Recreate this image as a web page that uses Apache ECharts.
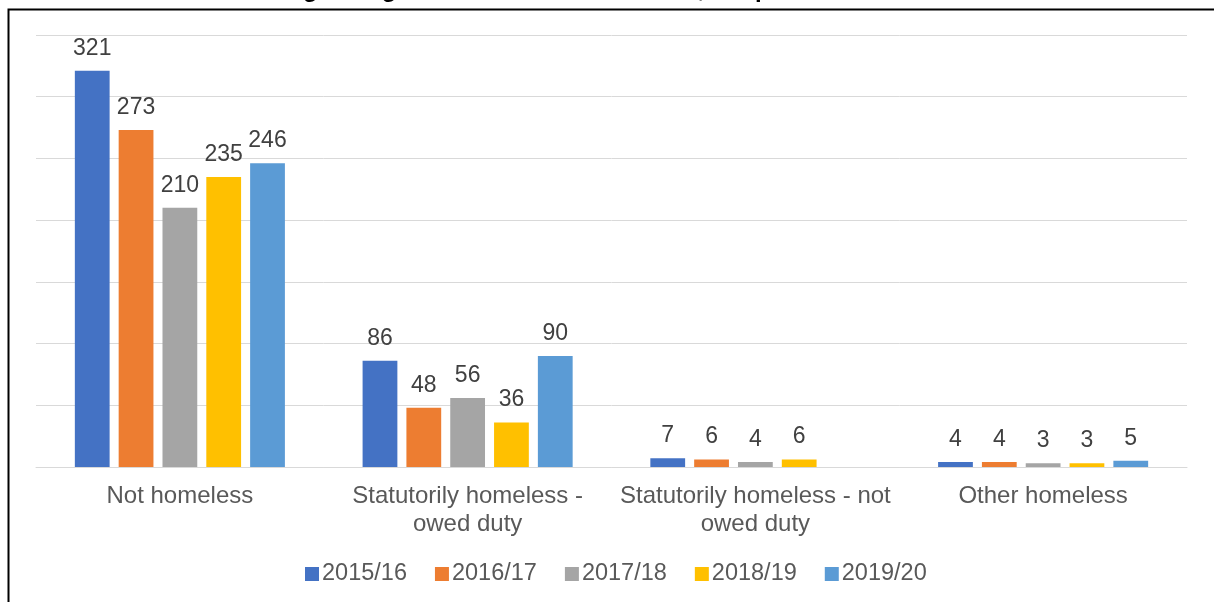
<!DOCTYPE html>
<html>
<head>
<meta charset="utf-8">
<script src="https://cdn.jsdelivr.net/npm/echarts@6/dist/echarts.min.js"></script>
<style>
html,body{margin:0;padding:0;background:#fff;}
#chart{width:1214px;height:602px;}
</style>
</head>
<body>
<div id="chart"></div>
<script>
const categories = ['Not homeless', 'Statutorily homeless -\nowed duty', 'Statutorily homeless - not\nowed duty', 'Other homeless'];
const seriesNames = ['2015/16', '2016/17', '2017/18', '2018/19', '2019/20'];
const s2015 = [321, 86, 7, 4];
const s2016 = [273, 48, 6, 4];
const s2017 = [210, 56, 4, 3];
const s2018 = [235, 36, 6, 3];
const s2019 = [246, 90, null, 5];
const colors = ['#4472C4', '#ED7D31', '#A5A5A5', '#FFC000', '#5B9BD5'];
const titleText = 'Chart 6: Social Housing lettings to homeless households, Suspended homeless outcome';

const chart = echarts.init(document.getElementById('chart'), null, {renderer: 'canvas'});
const allData = [s2015, s2016, s2017, s2018, s2019];
const font = 'Liberation Sans, Arial, sans-serif';

chart.setOption({
  animation: false,
  color: colors,
  textStyle: {fontFamily: font},
  graphic: [
    {type: 'rect', left: 6, top: 7, shape: {width: 1230, height: 620}, style: {fill: 'none', stroke: '#000', lineWidth: 2}},
    {type: 'text', left: 47, top: -22, style: {text: titleText, font: 'bold 24px ' + font, fill: '#000'}}
  ],
  grid: {left: 36, right: 27, top: 35, bottom: 135, containLabel: false},
  legend: {
    data: seriesNames,
    top: 562,
    left: 305,
    padding: 0,
    icon: 'rect',
    itemWidth: 14,
    itemHeight: 14,
    itemGap: 28,
    textStyle: {fontSize: 23.5, color: '#595959', fontFamily: font, padding: [0, 0, 0, -2]}
  },
  xAxis: {
    type: 'category',
    data: categories,
    axisLine: {lineStyle: {color: '#D9D9D9', width: 1}},
    axisTick: {show: false},
    axisLabel: {interval: 0, fontSize: 24, color: '#595959', lineHeight: 28, margin: 15, fontFamily: font}
  },
  yAxis: {
    type: 'value',
    min: 0, max: 350, interval: 50,
    axisLabel: {show: false},
    axisLine: {show: false},
    axisTick: {show: false},
    splitLine: {lineStyle: {color: '#D9D9D9', width: 1}}
  },
  series: seriesNames.map((n, i) => ({
    name: n,
    type: 'bar',
    data: allData[i],
    barGap: '26%',
    barCategoryGap: '27%',
    label: {show: true, position: 'top', distance: 11, fontSize: 23, color: '#404040', fontFamily: font}
  }))
});
</script>
</body>
</html>
